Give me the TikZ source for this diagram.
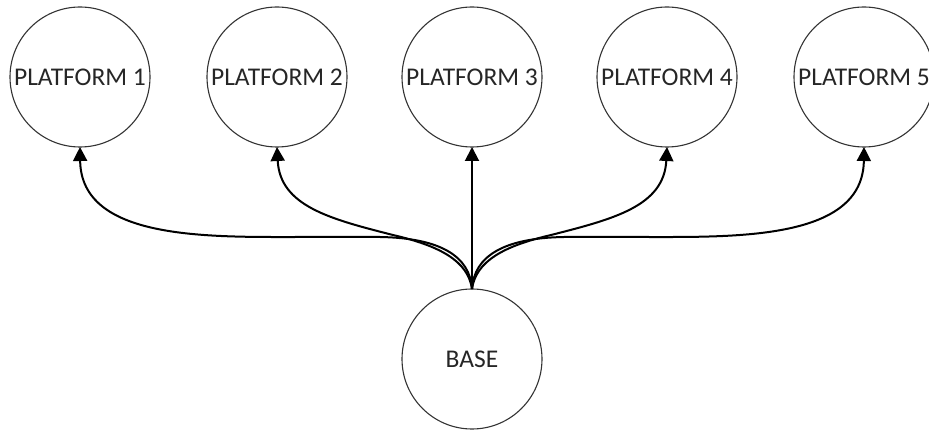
\documentclass[tikz,border=0pt]{standalone}
\usepackage{fontspec}
\setmainfont{Carlito}
\usetikzlibrary{arrows.meta}
\begin{document}
\begin{tikzpicture}[x=1pt,y=1pt,
  plat/.style={circle,draw=black!80,line width=1.1pt,minimum size=140pt,inner sep=0pt,outer sep=0pt,font=\fontsize{25.5}{27}\selectfont,text=black!85},
  conn/.style={line width=2pt,-{Triangle[length=14pt,width=14pt]}}]
\useasboundingbox (0,0) rectangle (929,431);
\node[plat] (p1) at (80,354) {PLATFORM 1};
\node[plat] (p2) at (277,354) {PLATFORM 2};
\node[plat] (p3) at (472,354) {PLATFORM 3};
\node[plat] (p4) at (667,354) {PLATFORM 4};
\node[plat] (p5) at (864,354) {PLATFORM 5};
\node[plat] (b) at (472,72) {BASE};
% platform 1
\draw[conn] (b.north) .. controls (470,175) and (440,193) .. (380,194) -- (300,194) .. controls (207,194) and (81,191) .. (p1.south);
% platform 2
\draw[conn] (b.north) .. controls (468,170) and (440,185) .. (393,196) .. controls (330,212) and (280,225) .. (p2.south);
% platform 3
\draw[conn] (b.north) -- (p3.south);
% platform 4
\draw[conn] (b.north) .. controls (476,170) and (504,185) .. (551,196) .. controls (614,212) and (664,225) .. (p4.south);
% platform 5
\draw[conn] (b.north) .. controls (474,175) and (504,193) .. (564,194) -- (644,194) .. controls (737,194) and (863,191) .. (p5.south);
\end{tikzpicture}
\end{document}
